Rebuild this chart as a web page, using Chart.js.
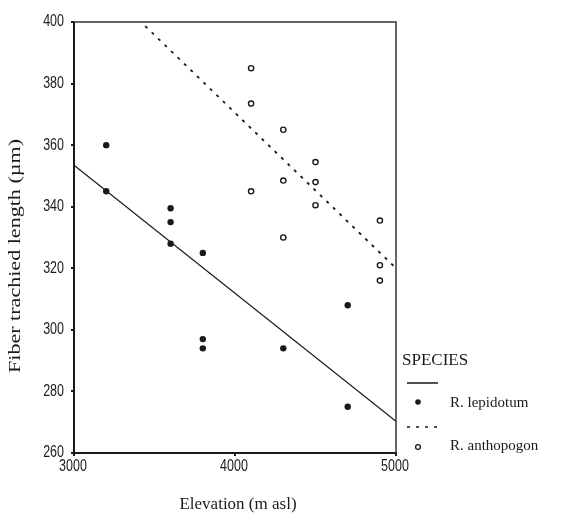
<!DOCTYPE html>
<html>
<head>
<meta charset="utf-8">
<script src="https://cdn.jsdelivr.net/npm/chart.js@4"></script>
<style>
  body { margin: 0; background: #fff; }
  #wrap { width: 561px; height: 515px; }
</style>
</head>
<body>
<div id="wrap"><canvas id="scatter"></canvas></div>
<script>
// elevation (m asl) and fiber tracheid length (µm)
const lepX = [3200, 3200, 3600, 3600, 3600, 3800, 3800, 3800, 4300, 4700, 4700];
const lepY = [360, 345, 339.5, 335, 328, 325, 297, 294, 294, 308, 275];
const anthX = [4100, 4100, 4100, 4300, 4300, 4300, 4500, 4500, 4500, 4900, 4900, 4900];
const anthY = [385, 373.5, 345, 365, 348.5, 330, 354.5, 348, 340.5, 335.5, 321, 316];

// fitted lines, read at the two ends of the x range
const fitX = [3000, 5000];
const fitLep = [353.5, 270.3];
const fitAnth = [421, 320];

const xTicks = [3000, 4000, 5000];
const yTicks = [260, 280, 300, 320, 340, 360, 380, 400];

const toPts = (xs, ys) => xs.map((x, i) => ({ x: x, y: ys[i] }));

const ink = "#1a1a1a";
const sans = '"Liberation Sans", Arial, sans-serif';
const serif = '"Liberation Serif", "Times New Roman", serif';

// tick labels (tall and narrow in the source), frame, axis titles, legend
const extras = {
    id: "extras",
    afterDatasetsDraw(chart) {
        const { ctx, chartArea: a } = chart;
        const sx = chart.scales.x, sy = chart.scales.y;
        ctx.save();
        ctx.strokeStyle = "#333";
        ctx.lineWidth = 1.5;
        ctx.beginPath();
        ctx.moveTo(a.left, a.top);
        ctx.lineTo(a.right, a.top);
        ctx.lineTo(a.right, a.bottom);
        ctx.stroke();

        ctx.fillStyle = ink;
        ctx.textBaseline = "middle";
        ctx.font = "12.5px " + sans;

        ctx.textAlign = "right";
        sy.ticks.forEach((t) => {
            ctx.save();
            ctx.translate(a.left - 10, sy.getPixelForValue(t.value));
            ctx.scale(1, 1.3);
            ctx.fillText(String(t.value), 0, 0);
            ctx.restore();
        });
        ctx.textAlign = "center";
        sx.ticks.forEach((t) => {
            ctx.save();
            ctx.translate(sx.getPixelForValue(t.value) - 1, a.bottom + 14);
            ctx.scale(1, 1.3);
            ctx.fillText(String(t.value), 0, 0);
            ctx.restore();
        });

        // y title, stretched along its length like the source
        ctx.save();
        ctx.translate(16, 256);
        ctx.rotate(-Math.PI / 2);
        ctx.scale(1.38, 1);
        ctx.font = "16px " + serif;
        ctx.textAlign = "center";
        ctx.fillText("Fiber trachied length (µm)", 0, 0);
        ctx.restore();

        ctx.font = "17px " + serif;
        ctx.textAlign = "center";
        ctx.fillText("Elevation (m asl)", 238, 505);

        // legend
        ctx.textAlign = "left";
        ctx.font = "17px " + serif;
        ctx.fillText("SPECIES", 402, 361);
        ctx.font = "15px " + serif;
        ctx.fillText("R. lepidotum", 450, 403);
        ctx.fillText("R. anthopogon", 450, 446);

        ctx.strokeStyle = ink;
        ctx.lineWidth = 1.5;
        ctx.beginPath();
        ctx.moveTo(407, 383);
        ctx.lineTo(438, 383);
        ctx.stroke();
        ctx.setLineDash([3, 6]);
        ctx.beginPath();
        ctx.moveTo(407, 427);
        ctx.lineTo(440, 427);
        ctx.stroke();
        ctx.setLineDash([]);

        ctx.beginPath();
        ctx.arc(418, 402, 2.8, 0, Math.PI * 2);
        ctx.fill();
        ctx.lineWidth = 1.3;
        ctx.beginPath();
        ctx.arc(418, 447, 2.4, 0, Math.PI * 2);
        ctx.stroke();
        ctx.restore();
    }
};

new Chart(document.getElementById("scatter"), {
    type: "scatter",
    data: {
        datasets: [
            {
                label: "R. lepidotum",
                data: toPts(lepX, lepY),
                pointRadius: 3.2,
                pointBackgroundColor: ink,
                pointBorderColor: ink,
                pointBorderWidth: 0,
            },
            {
                label: "R. anthopogon",
                data: toPts(anthX, anthY),
                pointRadius: 2.6,
                pointBackgroundColor: "#fff",
                pointBorderColor: ink,
                pointBorderWidth: 1.4,
            },
            {
                type: "line",
                data: toPts(fitX, fitLep),
                borderColor: ink,
                borderWidth: 1.3,
                pointRadius: 0,
                fill: false,
            },
            {
                type: "line",
                data: toPts(fitX, fitAnth),
                borderColor: ink,
                borderWidth: 1.8,
                borderDash: [3, 6],
                pointRadius: 0,
                fill: false,
            },
        ],
    },
    options: {
        responsive: true,
        maintainAspectRatio: false,
        animation: false,
        layout: { padding: { left: 0, top: 22, right: 165, bottom: 0 } },
        plugins: {
            legend: { display: false },
            tooltip: { enabled: false },
        },
        scales: {
            x: {
                type: "linear",
                min: 3000,
                max: 5000,
                afterFit: (s) => { s.height = 62; },
                afterBuildTicks: (s) => { s.ticks = xTicks.map((v) => ({ value: v })); },
                grid: { drawOnChartArea: false, tickLength: 3, color: ink, lineWidth: 2 },
                border: { color: ink, width: 2 },
                ticks: { display: false },
            },
            y: {
                type: "linear",
                min: 260,
                max: 400,
                afterFit: (s) => { s.width = 74; },
                afterBuildTicks: (s) => { s.ticks = yTicks.map((v) => ({ value: v })); },
                grid: { drawOnChartArea: false, tickLength: 3, color: ink, lineWidth: 2 },
                border: { color: ink, width: 2 },
                ticks: { display: false },
            },
        },
    },
    plugins: [extras],
});
</script>
</body>
</html>
